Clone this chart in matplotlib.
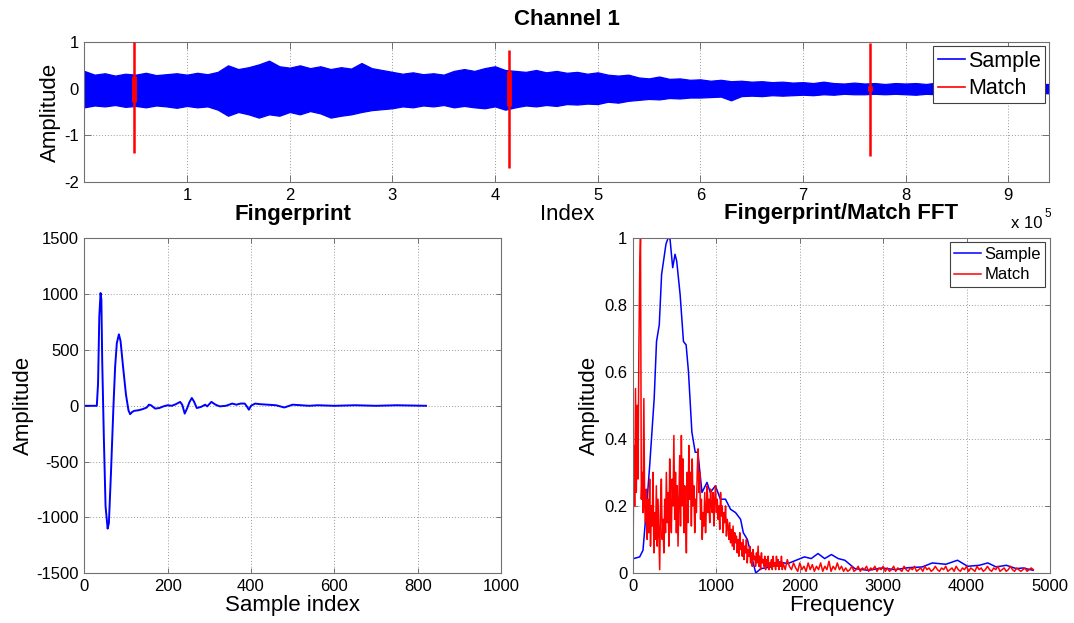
import numpy as np
import matplotlib
matplotlib.use("Agg")
import matplotlib.pyplot as plt
from matplotlib.lines import Line2D
from matplotlib.ticker import FixedLocator, FuncFormatter

plt.rcParams['font.family'] = ['Liberation Sans', 'DejaVu Sans']
plt.rcParams['axes.unicode_minus'] = False

# ---------------- Channel 1 recording (envelope every 1e4 samples) ----------------
env_index = np.arange(0, 950000, 10000)
sample_upper = [
    0.38, 0.30, 0.33, 0.28, 0.32, 0.30, 0.34, 0.29, 0.31, 0.33,
    0.30, 0.34, 0.31, 0.36, 0.50, 0.42, 0.46, 0.52, 0.60, 0.48,
    0.45, 0.50, 0.44, 0.48, 0.42, 0.46, 0.43, 0.55, 0.44, 0.40,
    0.36, 0.32, 0.35, 0.31, 0.33, 0.30, 0.38, 0.42, 0.38, 0.44,
    0.48, 0.40, 0.38, 0.36, 0.40, 0.35, 0.38, 0.34, 0.36, 0.32,
    0.35, 0.30, 0.28, 0.30, 0.24, 0.22, 0.26, 0.21, 0.22, 0.19,
    0.20, 0.17, 0.19, 0.16, 0.17, 0.15, 0.16, 0.14, 0.15, 0.13,
    0.14, 0.12, 0.15, 0.12, 0.11, 0.13, 0.11, 0.12, 0.10, 0.12,
    0.11, 0.12, 0.10, 0.13, 0.12, 0.11, 0.12, 0.10, 0.11, 0.10,
    0.11, 0.10, 0.09, 0.10, 0.10,
]
sample_lower = [
    -0.40, -0.36, -0.38, -0.35, -0.39, -0.37, -0.40, -0.36, -0.38, -0.41,
    -0.37, -0.40, -0.38, -0.45, -0.58, -0.50, -0.55, -0.62, -0.55, -0.58,
    -0.50, -0.55, -0.48, -0.53, -0.62, -0.58, -0.55, -0.50, -0.46, -0.44,
    -0.42, -0.38, -0.40, -0.36, -0.38, -0.35, -0.40, -0.37, -0.40, -0.42,
    -0.38, -0.45, -0.40, -0.36, -0.38, -0.35, -0.37, -0.33, -0.34, -0.32,
    -0.33, -0.28, -0.30, -0.26, -0.24, -0.22, -0.23, -0.20, -0.21, -0.19,
    -0.19, -0.18, -0.17, -0.25, -0.16, -0.15, -0.16, -0.14, -0.15, -0.14,
    -0.13, -0.14, -0.12, -0.13, -0.11, -0.12, -0.12, -0.11, -0.12, -0.11,
    -0.12, -0.13, -0.11, -0.12, -0.13, -0.11, -0.12, -0.11, -0.10, -0.11,
    -0.10, -0.11, -0.10, -0.09, -0.10,
]

# Detected matches: position, extreme values, and body amplitude
match_pos = [48000, 413500, 765000]
match_top = [1.00, 0.83, 0.97]
match_bottom = [-1.37, -1.71, -1.45]
match_body = [0.28, 0.38, 0.05]

# ---------------- Fingerprint waveform ----------------
fp_index = [0, 30, 33, 36, 39, 41, 43, 47, 51, 56, 59, 64, 70, 74, 78, 83, 87,
            93, 100, 106, 110, 115, 120, 130, 140, 150, 155, 160, 170, 180,
            190, 200, 210, 220, 230, 235, 241, 247, 252, 258, 263, 270, 280,
            290, 295, 305, 315, 325, 340, 355, 365, 375, 385, 390, 395, 400,
            410, 420, 440, 460, 480, 500, 520, 540, 560, 600, 650, 700, 750,
            820]
fp_value = [0, 0, 200, 800, 1010, 950, 400, -300, -900, -1100, -1050, -600,
            0, 350, 560, 640, 580, 350, 100, -40, -75, -55, -45, -40, -30,
            -15, 10, 5, -25, -20, -5, 5, 0, 15, 35, 10, -70, -20, 30, 70, 40,
            -20, -10, 10, -5, 35, 10, -5, 0, 20, 10, 20, 20, -5, -35, 0, 20,
            15, 10, 5, -15, 10, 5, 0, 5, 0, 5, 0, 5, 0]

# ---------------- Spectra ----------------
fft_sample_freq = [8, 80, 120, 170, 200, 254, 282, 315, 343, 395, 423, 444,
                   476, 504, 524, 565, 605, 637, 665, 706, 746, 778, 827, 887,
                   927, 988, 1048, 1109, 1169, 1230, 1290, 1323, 1371, 1431,
                   1472, 1532, 1653, 1754, 1855, 1956, 2056, 2137, 2218, 2298,
                   2379, 2460, 2540, 2661, 2823, 2984, 3145, 3306, 3468, 3589,
                   3750, 3891, 4012, 4153, 4254, 4355, 4476, 4597, 4677, 4798]
fft_sample_amp = [0.043, 0.048, 0.068, 0.22, 0.32, 0.52, 0.69, 0.74, 0.89,
                  0.98, 1.0, 0.995, 0.91, 0.95, 0.93, 0.83, 0.69, 0.68, 0.60,
                  0.42, 0.36, 0.36, 0.24, 0.27, 0.24, 0.26, 0.22, 0.22, 0.19,
                  0.18, 0.16, 0.12, 0.10, 0.04, 0.0, 0.013, 0.018, 0.033,
                  0.028, 0.038, 0.048, 0.043, 0.058, 0.043, 0.055, 0.043,
                  0.038, 0.013, 0.008, 0.015, 0.01, 0.016, 0.018, 0.03, 0.026,
                  0.038, 0.02, 0.023, 0.03, 0.018, 0.023, 0.013, 0.015, 0.008]

fft_match_freq_lo = np.arange(0, 1800, 10)
fft_match_amp_lo = [
    0.03, 0.38, 0.20, 0.55, 0.24, 0.50, 0.28, 0.65, 0.89, 1.00,
    0.22, 0.30, 0.18, 0.52, 0.20, 0.15, 0.25, 0.10, 0.22, 0.12,
    0.28, 0.08, 0.20, 0.14, 0.30, 0.06, 0.18, 0.10, 0.26, 0.08,
    0.22, 0.12, 0.01, 0.20, 0.28, 0.10, 0.16, 0.06, 0.22, 0.12,
    0.30, 0.15, 0.24, 0.08, 0.34, 0.18, 0.12, 0.28, 0.20, 0.41,
    0.16, 0.30, 0.12, 0.26, 0.08, 0.22, 0.35, 0.14, 0.41, 0.20,
    0.34, 0.12, 0.26, 0.18, 0.06, 0.30, 0.15, 0.38, 0.22, 0.30,
    0.14, 0.34, 0.20, 0.26, 0.12, 0.22, 0.18, 0.30, 0.37, 0.24,
    0.30, 0.16, 0.22, 0.10, 0.18, 0.14, 0.24, 0.12, 0.20, 0.26,
    0.18, 0.22, 0.15, 0.25, 0.20, 0.18, 0.24, 0.14, 0.22, 0.26,
    0.18, 0.22, 0.16, 0.20, 0.13, 0.24, 0.17, 0.20, 0.12, 0.18,
    0.15, 0.20, 0.11, 0.16, 0.14, 0.10, 0.15, 0.09, 0.13, 0.08,
    0.14, 0.07, 0.12, 0.09, 0.11, 0.06, 0.10, 0.05, 0.12, 0.07,
    0.09, 0.05, 0.10, 0.04, 0.08, 0.06, 0.10, 0.03, 0.07, 0.05,
    0.08, 0.03, 0.06, 0.02, 0.07, 0.04, 0.05, 0.02, 0.06, 0.03,
    0.08, 0.02, 0.05, 0.01, 0.06, 0.03, 0.04, 0.02, 0.05, 0.01,
    0.04, 0.02, 0.05, 0.01, 0.03, 0.02, 0.04, 0.01, 0.05, 0.02,
    0.03, 0.01, 0.05, 0.02, 0.04, 0.01, 0.03, 0.02, 0.05, 0.01,
]
fft_match_freq_hi = np.arange(1800, 4801, 25)
fft_match_amp_hi = [
    0.03, 0.01, 0.04, 0.02, 0.01, 0.03, 0.015, 0.005, 0.03, 0.01,
    0.02, 0.005, 0.03, 0.01, 0.025, 0.005, 0.02, 0.01, 0.03, 0.005,
    0.02, 0.01, 0.035, 0.005, 0.02, 0.01, 0.03, 0.01, 0.02, 0.005,
    0.015, 0.005, 0.01, 0.02, 0.005, 0.01, 0.02, 0.005, 0.015, 0.01,
    0.02, 0.005, 0.015, 0.01, 0.02, 0.005, 0.015, 0.01, 0.02, 0.005,
    0.015, 0.005, 0.01, 0.02, 0.005, 0.015, 0.01, 0.005, 0.02, 0.01,
    0.005, 0.015, 0.01, 0.02, 0.005, 0.01, 0.015, 0.005, 0.02, 0.01,
    0.015, 0.005, 0.01, 0.02, 0.01, 0.005, 0.015, 0.01, 0.02, 0.005,
    0.01, 0.015, 0.005, 0.02, 0.01, 0.005, 0.015, 0.01, 0.02, 0.005,
    0.015, 0.01, 0.005, 0.02, 0.01, 0.015, 0.005, 0.01, 0.02, 0.01,
    0.005, 0.015, 0.01, 0.02, 0.005, 0.01, 0.015, 0.005, 0.01, 0.02,
    0.01, 0.005, 0.015, 0.01, 0.005, 0.01, 0.015, 0.005, 0.01, 0.015,
    0.01,
]

BLUE = (0, 0, 1)
RED = (1, 0, 0)
EDGE = '#707070'
TICK_FS = 12
LABEL_FS = 16
TITLE_FS = 16


def style_axes(ax, ticklen):
    for s in ax.spines.values():
        s.set_color(EDGE)
        s.set_linewidth(0.8)
    ax.tick_params(direction='in', length=ticklen, width=0.7, color=EDGE,
                   labelsize=TICK_FS, labelcolor='black', pad=4,
                   top=True, right=True)
    ax.grid(True, color='#9a9a9a', linestyle=(0, (1, 2)), linewidth=0.7)
    ax.set_axisbelow(True)


fig = plt.figure(figsize=(10.74, 6.23), dpi=100)

# ---------- top: whole recording ----------
ax1 = fig.add_axes([84.3 / 1074, 1 - 182 / 623, 965 / 1074, 140 / 623])
ax1.fill_between(env_index, sample_lower, sample_upper, color=BLUE,
                 linewidth=0.9, edgecolor=BLUE, zorder=2)
for p, t, b, c in zip(match_pos, match_top, match_bottom, match_body):
    ax1.plot([p, p], [b, t], color=RED, linewidth=1.8, zorder=3,
             solid_capstyle='butt')
    ax1.plot([p, p], [-c, c], color=RED, linewidth=3.5, zorder=3,
             solid_capstyle='butt')
ax1.set_xlim(1, 940000)
ax1.set_ylim(-2, 1)
ax1.xaxis.set_major_locator(FixedLocator(np.arange(100000, 900001, 100000)))
ax1.xaxis.set_major_formatter(FuncFormatter(lambda v, _: f"{v / 1e5:g}"))
ax1.set_yticks([-2, -1, 0, 1])
style_axes(ax1, 5)
ax1.set_xlabel('Index', fontsize=LABEL_FS, labelpad=1)
ax1.set_ylabel('Amplitude', fontsize=LABEL_FS, labelpad=2)
ax1.set_title('Channel 1', fontsize=TITLE_FS, fontweight='bold', pad=12)
h1 = [Line2D([], [], color=BLUE, lw=1.2), Line2D([], [], color=RED, lw=1.2)]
leg1 = ax1.legend(h1, ['Sample', 'Match'], loc='upper right', fontsize=15.5,
                  handlelength=1.25, handletextpad=0.15, borderpad=0.2,
                  labelspacing=0.3, borderaxespad=0.2, fancybox=False,
                  framealpha=1)
leg1.get_frame().set_edgecolor('#404040')
leg1.get_frame().set_linewidth(0.8)
fig.text(1011 / 1074, 1 - 228 / 623, 'x 10', fontsize=TICK_FS, ha='left',
         va='baseline')
fig.text(1044 / 1074, 1 - 217 / 623, '5', fontsize=8.5, ha='left',
         va='baseline')

# ---------- bottom left: fingerprint ----------
ax2 = fig.add_axes([84.3 / 1074, 1 - 573.3 / 623, 416.7 / 1074, 335 / 623])
ax2.plot(fp_index, fp_value, color=BLUE, linewidth=1.4)
ax2.set_xlim(0, 1000)
ax2.set_ylim(-1500, 1500)
ax2.set_xticks(np.arange(0, 1001, 200))
ax2.set_yticks(np.arange(-1500, 1501, 500))
style_axes(ax2, 3.5)
ax2.set_xlabel('Sample index', fontsize=LABEL_FS, labelpad=1)
ax2.set_ylabel('Amplitude', fontsize=LABEL_FS, labelpad=2)
ax2.set_title('Fingerprint', fontsize=TITLE_FS, fontweight='bold', pad=13)

# ---------- bottom right: spectra ----------
ax3 = fig.add_axes([633 / 1074, 1 - 573 / 623, 417 / 1074, 335.5 / 623])
ax3.plot(fft_sample_freq, fft_sample_amp, color=BLUE, linewidth=1.1,
         label='Sample')
ax3.plot(np.concatenate([fft_match_freq_lo, fft_match_freq_hi]),
         np.concatenate([fft_match_amp_lo, fft_match_amp_hi]),
         color=RED, linewidth=1.1, label='Match')
ax3.set_xlim(0, 5000)
ax3.set_ylim(0, 1)
ax3.set_xticks(np.arange(0, 5001, 1000))
ax3.set_yticks([0, 0.2, 0.4, 0.6, 0.8, 1.0])
ax3.yaxis.set_major_formatter(FuncFormatter(lambda v, _: f"{v:g}"))
style_axes(ax3, 3.5)
ax3.set_xlabel('Frequency', fontsize=LABEL_FS, labelpad=1)
ax3.set_ylabel('Amplitude', fontsize=LABEL_FS, labelpad=3)
ax3.set_title('Fingerprint/Match FFT', fontsize=TITLE_FS, fontweight='bold',
              pad=13)
leg3 = ax3.legend(loc='upper right', fontsize=12, handlelength=1.6,
                  handletextpad=0.2, borderpad=0.25, labelspacing=0.35,
                  borderaxespad=0.3, fancybox=False, framealpha=1)
leg3.get_frame().set_edgecolor('#404040')
leg3.get_frame().set_linewidth(0.8)

fig.savefig('out.png', dpi=100)
